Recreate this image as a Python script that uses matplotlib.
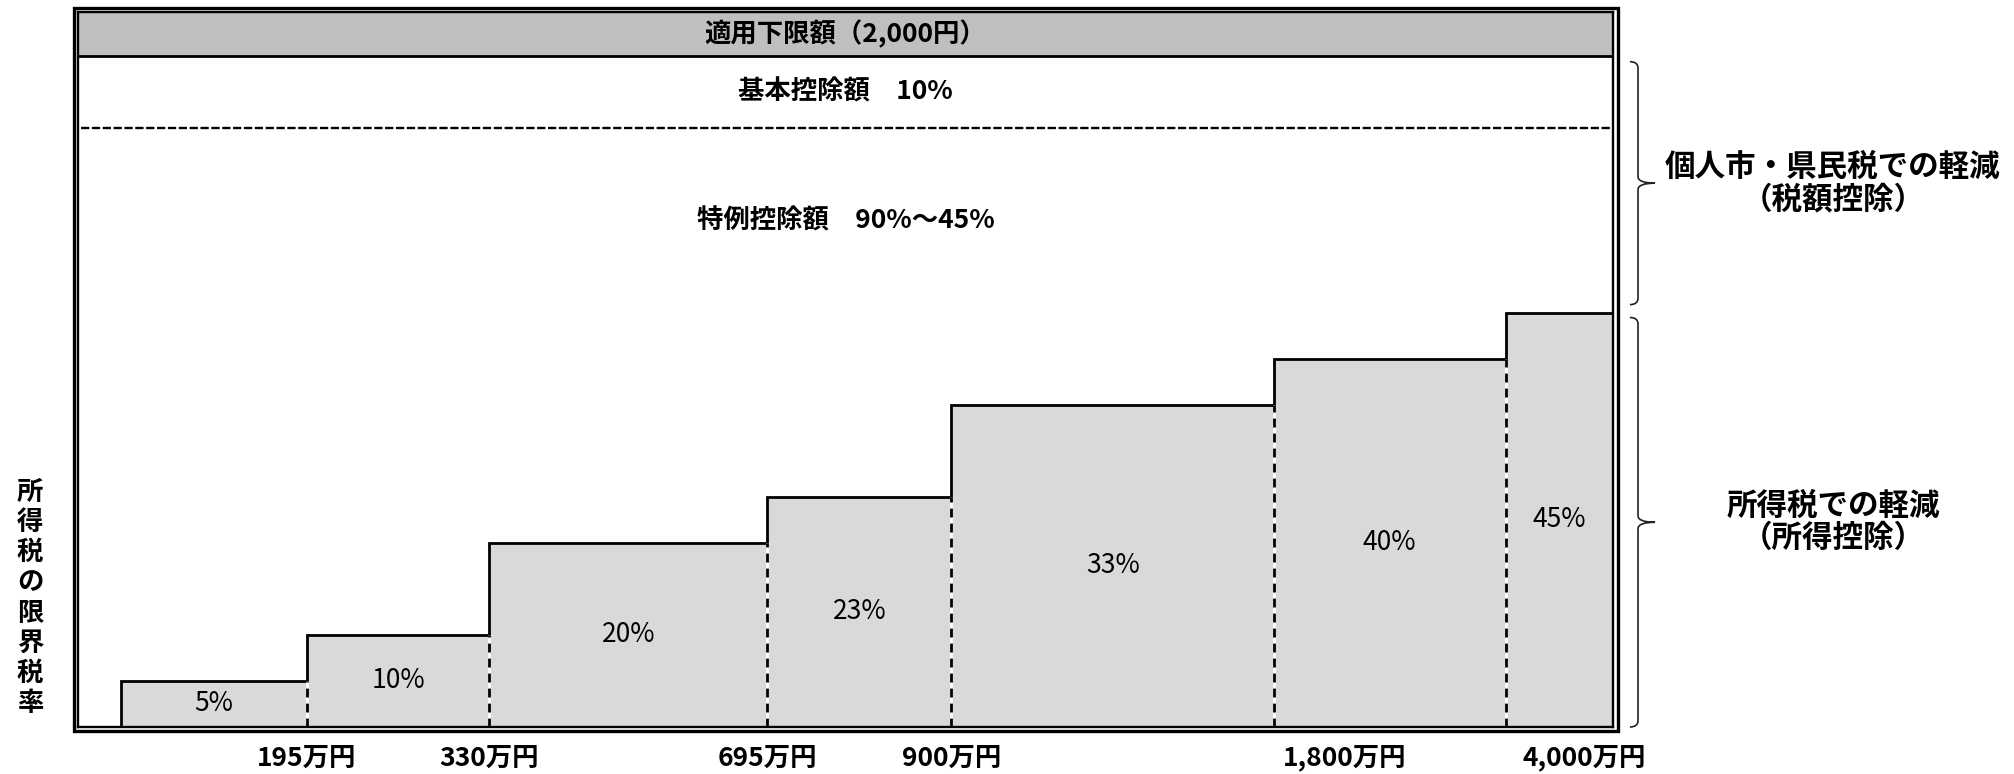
import matplotlib
matplotlib.use('Agg')
import matplotlib.pyplot as plt
import matplotlib.transforms as mtransforms
from matplotlib import font_manager
from matplotlib.patches import Rectangle, PathPatch
from matplotlib.path import Path

plt.rcParams['font.family'] = ['Noto Sans CJK JP', 'DejaVu Sans']

# 所得税の税率区分(図の上では模式的な幅)
band_edges = [2.8, 14.9, 26.8, 44.9, 56.9, 77.9, 93.0, 100.0]
step_heights = [5, 10, 20, 25, 35, 40, 45]
rate_labels = ['5%', '10%', '20%', '23%', '33%', '40%', '45%']
income_labels = ['195万円', '330万円', '695万円', '900万円', '1,800万円', '4,000万円']

banner_text = '適用下限額（2,000円）'
basic_text = '基本控除額　10%'
special_text = '特例控除額　90%～45%'
upper_brace_text = '個人市・県民税での軽減\n（税額控除）'
lower_brace_text = '所得税での軽減\n（所得控除）'
ylabel_text = '所得税の限界税率'

# 数字は細めの書体で (無ければ Noto のまま)
installed = {f.name for f in font_manager.fontManager.ttflist}
if 'Liberation Sans Narrow' in installed:
    num_family = ['Liberation Sans Narrow', 'Noto Sans CJK JP', 'DejaVu Sans']
else:
    num_family = ['Noto Sans CJK JP', 'DejaVu Sans']

W, H = 2015, 774
fig = plt.figure(figsize=(W / 100, H / 100), dpi=100)
ax = fig.add_axes([78 / W, 1 - 727 / H, (1613 - 78) / W, (727 - 12) / H])
YTOP = 77.7
BANNER_Y = 72.9
ax.set_xlim(0, 100)
ax.set_ylim(0, YTOP)
ax.set_xticks([])
ax.set_yticks([])
for s in ax.spines.values():
    s.set_linewidth(1.7)
    s.set_zorder(10)
blend = mtransforms.blended_transform_factory(ax.transAxes, ax.transData)

# 外枠 (二重線)
fig.add_artist(Rectangle((74.5 / W, 1 - 730.5 / H), (1618.5 - 74.5) / W, (730.5 - 7.5) / H,
                         transform=fig.transFigure, fill=False, lw=2.4, ec='black'))

# 帯
ax.add_patch(Rectangle((0, BANNER_Y), 100, YTOP - BANNER_Y, fc='#bfbfbf', ec='none', zorder=1))
ax.axhline(BANNER_Y, color='black', lw=2.0, zorder=3)
ax.text(50, (BANNER_Y + YTOP) / 2, banner_text, ha='center', va='center',
        fontsize=19, fontweight='bold', family=num_family)

ax.axhline(65.1, xmin=0.002, xmax=0.998, color='black', lw=1.7, ls=(0, (3.5, 1.1)))
ax.text(50, 69.0, basic_text, ha='center', va='center', fontsize=19, fontweight='bold',
        family=num_family)
ax.text(50, 55.0, special_text, ha='center', va='center', fontsize=19, fontweight='bold',
        family=num_family)

# 階段状の棒
ax.stairs(step_heights, band_edges, baseline=0, fill=True, color='#d9d9d9', lw=0, zorder=2)
ax.stairs(step_heights, band_edges, baseline=0, fill=False, color='black', lw=2.0, zorder=4)
ax.vlines(band_edges[1:-1], 0, step_heights[:-1], color='white', lw=2.0, zorder=4)
ax.vlines(band_edges[1:-1], 0, step_heights[:-1], color='black', lw=2.0,
          linestyles=(0, (3.2, 2.2)), zorder=5)

for i, lab in enumerate(rate_labels):
    xc = (band_edges[i] + band_edges[i + 1]) / 2
    ax.text(xc, step_heights[i] / 2, lab, ha='center', va='center', fontsize=19,
            family=num_family)

label_shift = [0, 0, 0, 0, 4.6, 5.1]
for i, lab in enumerate(income_labels):
    ax.text(band_edges[i + 1] + label_shift[i], -3.4, lab, ha='center', va='center',
            fontsize=19, fontweight='bold', family=num_family, clip_on=False)

ax.text(-0.0313, (727 - 598) / 9.2, '\n'.join(ylabel_text), transform=blend,
        ha='center', va='center', fontsize=19, fontweight='bold', linespacing=1.15)


def brace(y0, y1):
    xa, xb, xt = 1.011, 1.0163, 1.0274
    r = 0.7
    ym = (y0 + y1) / 2
    verts = [(xa, y1), (xb, y1), (xb, y1 - r), (xb, ym + r), (xb, ym), (xt, ym),
             (xb, ym), (xb, ym - r), (xb, y0 + r), (xb, y0), (xa, y0)]
    codes = [Path.MOVETO, Path.CURVE3, Path.CURVE3, Path.LINETO, Path.CURVE3, Path.CURVE3,
             Path.CURVE3, Path.CURVE3, Path.LINETO, Path.CURVE3, Path.CURVE3]
    ax.add_patch(PathPatch(Path(verts, codes), transform=blend, fill=False, lw=1.2,
                           ec='#222222', clip_on=False))
    return ym


top = max(step_heights)
ym = brace(top + 0.9, BANNER_Y - 0.6)
ax.text(1.1433, ym, upper_brace_text, transform=blend, ha='center', va='center',
        fontsize=22, fontweight='bold', linespacing=1.0)
ym = brace(0, top - 0.5)
ax.text(1.1433, ym, lower_brace_text, transform=blend, ha='center', va='center',
        fontsize=22, fontweight='bold', linespacing=1.0)

fig.savefig('out.png', dpi=100)
